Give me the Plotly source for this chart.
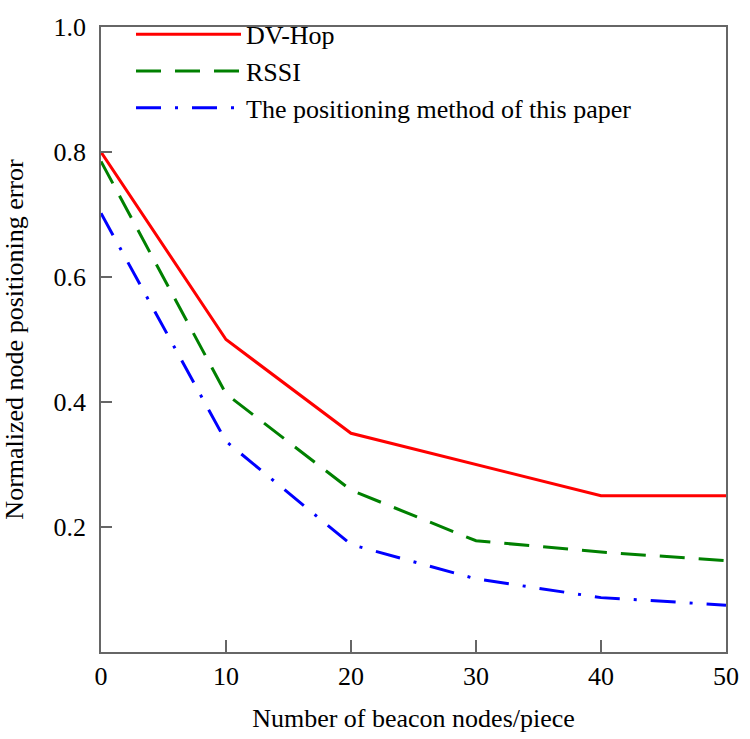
import plotly.graph_objects as go

x_vals = [0, 10, 20, 30, 40, 50]
dv_hop = [0.80, 0.50, 0.35, 0.30, 0.25, 0.25]
rssi = [0.785, 0.413, 0.259, 0.178, 0.160, 0.146]
proposed = [0.702, 0.337, 0.172, 0.117, 0.087, 0.075]

names = ["DV-Hop", "RSSI", "The positioning method of this paper"]
colors = ["#ff0000", "#008000", "#0000ff"]
dashes = ["solid", "25px,14px", "25px,14px,3px,14px"]
series = [dv_hop, rssi, proposed]

FONT = "Liberation Serif"
FS = 26

fig = go.Figure()
for i, (n, c, d, s) in enumerate(zip(names, colors, dashes, series)):
    fig.add_trace(go.Scatter(
        x=x_vals, y=s, name=n, mode="lines",
        line=dict(color=c, width=3, dash=d),
        legendgroup=f"g{i}",
    ))

fig.update_layout(
    width=750, height=739,
    margin=dict(l=100, r=11, t=15, b=83),
    paper_bgcolor="white", plot_bgcolor="white",
    font=dict(family=FONT, size=FS, color="black"),
    showlegend=True,
    legend=dict(
        x=0.048, y=1.026, xanchor="left", yanchor="top",
        bgcolor="rgba(0,0,0,0)", borderwidth=0,
        font=dict(family=FONT, size=FS, color="black"),
        itemwidth=105, tracegroupgap=0,
    ),
    xaxis=dict(
        range=[0, 50], tickvals=[0, 10, 20, 30, 40, 50],
        ticks="inside", ticklen=12, tickwidth=1.5, tickcolor="#666666",
        showline=True, linecolor="#666666", linewidth=1.5, mirror=True,
        showgrid=False, zeroline=False,
        ticklabelstandoff=0,
        title=dict(text="Number of beacon nodes/piece", standoff=19,
                   font=dict(family=FONT, size=FS)),
        tickfont=dict(family=FONT, size=FS),
    ),
    yaxis=dict(
        range=[0, 1.0], tickvals=[0.2, 0.4, 0.6, 0.8, 1.0],
        ticktext=["0.2", "0.4", "0.6", "0.8", "1.0"],
        ticks="inside", ticklen=11, tickwidth=1.5, tickcolor="#666666",
        showline=True, linecolor="#666666", linewidth=1.5, mirror=True,
        showgrid=False, zeroline=False,
        ticklabelstandoff=8,
        title=dict(text="Normalized node positioning error", standoff=24,
                   font=dict(family=FONT, size=FS)),
        tickfont=dict(family=FONT, size=FS),
    ),
)

fig.write_html("out.html")
